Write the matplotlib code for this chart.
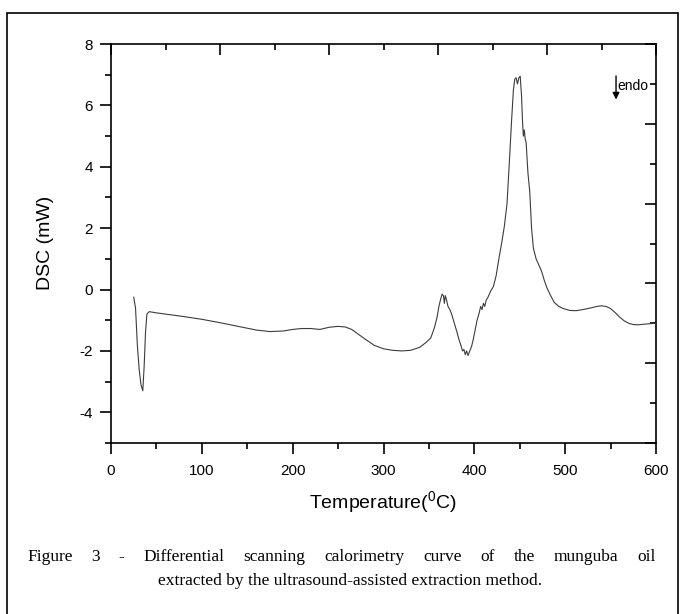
import matplotlib
matplotlib.use("Agg")
import matplotlib.pyplot as plt
from matplotlib.patches import Rectangle

# DATA
temp = [25, 27, 29, 31, 33, 35, 36.5, 38, 39.5, 42,
        50, 60, 80, 100, 120, 140, 160, 175, 190, 200,
        210, 220, 230, 240, 250, 258, 265, 272, 280, 290,
        300, 310, 320, 330, 340, 347, 352, 356, 359, 361,
        363, 364.5, 366, 367, 368, 369.5, 371, 373, 375, 377,
        379, 381, 383, 385, 387, 388.5, 390, 391.5, 393, 395,
        397, 399, 401, 403, 405, 407, 408.5, 410, 411.5, 413,
        415, 418, 421, 424, 427, 430, 433, 436, 439, 441,
        443, 444.5, 446, 447.5, 449, 450.5, 452, 453, 454, 455,
        456, 457, 459, 461, 463, 465, 468, 471, 474, 477,
        480, 484, 488, 493, 498, 505, 512, 520, 528, 535,
        540, 545, 550, 555, 560, 565, 570, 575, 580, 590,
        600]
dsc = [-0.25, -0.6, -1.8, -2.6, -3.1, -3.3, -2.5, -1.4, -0.8, -0.72,
       -0.76, -0.8, -0.88, -0.97, -1.08, -1.2, -1.32, -1.37, -1.35, -1.3,
       -1.27, -1.27, -1.3, -1.23, -1.2, -1.22, -1.3, -1.45, -1.62, -1.82,
       -1.93, -1.98, -2.0, -1.98, -1.88, -1.72, -1.58, -1.25, -0.9, -0.55,
       -0.3, -0.15, -0.2, -0.45, -0.2, -0.35, -0.55, -0.65, -0.8, -1.0,
       -1.2, -1.4, -1.62, -1.8, -2.0, -1.95, -2.12, -2.0, -2.15, -2.0,
       -1.85, -1.6, -1.3, -1.0, -0.8, -0.55, -0.65, -0.45, -0.55, -0.35,
       -0.25, -0.05, 0.1, 0.45, 1.0, 1.5, 2.05, 2.8, 4.4, 5.5,
       6.5, 6.85, 6.9, 6.7, 6.9, 6.95, 6.3, 5.5, 5.0, 5.2,
       4.9, 4.8, 3.8, 3.2, 2.0, 1.35, 1.0, 0.8, 0.6, 0.3,
       0.05, -0.2, -0.42, -0.55, -0.62, -0.68, -0.69, -0.65, -0.6, -0.55,
       -0.53, -0.55, -0.62, -0.75, -0.9, -1.02, -1.1, -1.14, -1.15, -1.12,
       -1.1]

xticks = [0, 100, 200, 300, 400, 500, 600]
yticks = [-4, -2, 0, 2, 4, 6, 8]
caption1 = "Figure 3 - Differential scanning calorimetry curve of the munguba oil"
caption2 = "extracted by the ultrasound-assisted extraction method."

plt.rcParams['font.family'] = ['Liberation Sans', 'DejaVu Sans']
plt.rcParams['mathtext.fontset'] = 'custom'
plt.rcParams['mathtext.rm'] = 'Liberation Sans'
plt.rcParams['axes.unicode_minus'] = False

W, H = 683, 614
fig = plt.figure(figsize=(W / 100, H / 100), dpi=100)
ax = fig.add_axes([111 / W, 1 - 443 / H, (656 - 111) / W, (443 - 44) / H])

ax.plot(temp, dsc, color='#3c3c3c', lw=0.8)
ax.set_xlim(0, 600)
ax.set_ylim(-5, 8)
ax.set_xticks(xticks)
ax.set_xticks(range(0, 601, 50), minor=True)
ax.set_yticks(yticks)
ax.set_yticks(range(-5, 9), minor=True)
ax.tick_params(which='major', direction='out', length=8, width=1.2, labelsize=11, pad=5)
ax.tick_params(which='minor', direction='out', length=4, width=1.2)
ax.tick_params(axis='x', which='major', pad=7)
for s in ax.spines.values():
    s.set_linewidth(1.2)
ax.spines['top'].set_visible(False)
ax.spines['right'].set_visible(False)

# top / right axes: ten equal divisions, ticks pointing in, no labels
top = ax.secondary_xaxis('top', functions=(lambda x: x / 600, lambda f: f * 600))
top.set_xticks([0, 0.2, 0.4, 0.6, 0.8, 1.0])
top.set_xticks([0.1, 0.3, 0.5, 0.7, 0.9], minor=True)
top.tick_params(which='major', direction='in', length=8, width=1.2, labeltop=False)
top.tick_params(which='minor', direction='in', length=4, width=1.2)
top.spines['top'].set_linewidth(1.2)

right = ax.secondary_yaxis('right', functions=(lambda y: (y + 5) / 13, lambda f: f * 13 - 5))
right.set_yticks([0, 0.2, 0.4, 0.6, 0.8, 1.0])
right.set_yticks([0.1, 0.3, 0.5, 0.7, 0.9], minor=True)
right.tick_params(which='major', direction='in', length=8, width=1.2, labelright=False)
right.tick_params(which='minor', direction='in', length=4, width=1.2)
right.spines['right'].set_linewidth(1.2)

fig.text(383 / W, 1 - 502 / H, r'Temperature($\mathregular{^0}$C)', fontsize=14,
         ha='center', va='center')
fig.text(45 / W, 1 - 243 / H, 'DSC (mW)', fontsize=14, rotation=90,
         ha='center', va='center')

# endo marker
ax.annotate('', xy=(556, 6.1), xytext=(556, 7.05),
            arrowprops=dict(arrowstyle='-|>', color='k', lw=1, mutation_scale=10))
ax.text(558, 6.63, 'endo', fontsize=10, va='center')

# frame around the whole figure
fig.add_artist(Rectangle((7 / W, -0.05), (678 - 7) / W, 1 - 13 / H + 0.05,
                         transform=fig.transFigure, fill=False, lw=1.2, ec='k'))

# caption: first line justified, second line plain
serif = ['Liberation Serif', 'DejaVu Serif']
words = caption1.split(' ')
fig.canvas.draw()
renderer = fig.canvas.get_renderer()
objs = [fig.text(0, 1 - 557 / H, w, family=serif, fontsize=12.5, va='center') for w in words]
widths = [o.get_window_extent(renderer).width for o in objs]
x0, x1 = 27, 656
gap = (x1 - x0 - sum(widths)) / (len(words) - 1)
x = x0
for o, wd in zip(objs, widths):
    o.set_x(x / W)
    x += wd + gap
fig.text(158 / W, 1 - 581 / H, caption2, family=serif, fontsize=12.5, va='center')

fig.savefig('out.png', dpi=100)
